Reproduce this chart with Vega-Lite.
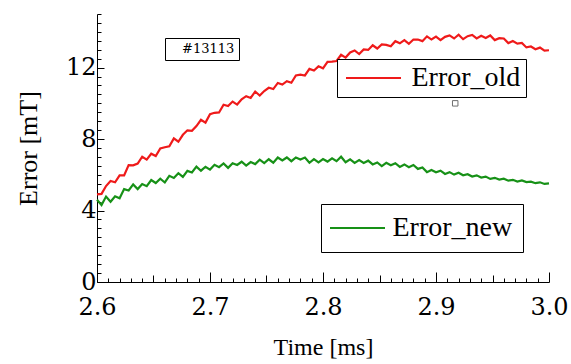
{
  "$schema": "https://vega.github.io/schema/vega-lite/v6.json",
  "width": 452,
  "height": 268,
  "autosize": {"type": "none"},
  "padding": {"left": 97, "top": 14, "right": 22, "bottom": 82},
  "background": "white",
  "data": {"values": [
    {"t":2.600,"old":4.90,"new":4.60},{"t":2.604,"old":4.93,"new":4.31},{"t":2.608,"old":5.37,"new":4.78},{"t":2.612,"old":5.65,"new":4.49},
    {"t":2.616,"old":5.58,"new":4.80},{"t":2.620,"old":5.97,"new":4.69},{"t":2.624,"old":5.97,"new":5.20},{"t":2.628,"old":6.54,"new":5.12},
    {"t":2.632,"old":6.53,"new":5.46},{"t":2.636,"old":6.63,"new":5.20},{"t":2.640,"old":7.01,"new":5.48},{"t":2.644,"old":6.85,"new":5.36},
    {"t":2.648,"old":7.18,"new":5.71},{"t":2.652,"old":7.05,"new":5.54},{"t":2.656,"old":7.47,"new":5.78},{"t":2.660,"old":7.54,"new":5.57},
    {"t":2.664,"old":7.60,"new":5.94},{"t":2.668,"old":8.04,"new":5.82},{"t":2.672,"old":7.85,"new":6.09},{"t":2.676,"old":8.24,"new":5.88},
    {"t":2.680,"old":8.49,"new":6.22},{"t":2.684,"old":8.46,"new":6.13},{"t":2.688,"old":8.73,"new":6.46},{"t":2.692,"old":9.08,"new":6.23},
    {"t":2.696,"old":8.92,"new":6.45},{"t":2.700,"old":9.39,"new":6.29},{"t":2.704,"old":9.47,"new":6.56},{"t":2.708,"old":9.49,"new":6.43},
    {"t":2.712,"old":9.92,"new":6.64},{"t":2.716,"old":9.85,"new":6.39},{"t":2.720,"old":10.10,"new":6.65},{"t":2.724,"old":9.93,"new":6.55},
    {"t":2.728,"old":10.23,"new":6.73},{"t":2.732,"old":10.40,"new":6.51},{"t":2.736,"old":10.30,"new":6.71},{"t":2.740,"old":10.66,"new":6.60},
    {"t":2.744,"old":10.44,"new":6.85},{"t":2.748,"old":10.69,"new":6.65},{"t":2.752,"old":10.87,"new":6.87},{"t":2.756,"old":10.80,"new":6.68},
    {"t":2.760,"old":11.14,"new":6.97},{"t":2.764,"old":11.05,"new":6.80},{"t":2.768,"old":11.24,"new":6.97},{"t":2.772,"old":11.15,"new":6.76},
    {"t":2.776,"old":11.56,"new":6.97},{"t":2.780,"old":11.61,"new":6.86},{"t":2.784,"old":11.56,"new":6.97},{"t":2.788,"old":11.93,"new":6.67},
    {"t":2.792,"old":11.84,"new":6.88},{"t":2.796,"old":12.07,"new":6.70},{"t":2.800,"old":11.96,"new":6.88},{"t":2.804,"old":12.32,"new":6.74},
    {"t":2.808,"old":12.33,"new":6.92},{"t":2.812,"old":12.37,"new":6.76},{"t":2.816,"old":12.72,"new":7.01},{"t":2.820,"old":12.56,"new":6.70},
    {"t":2.824,"old":12.85,"new":6.86},{"t":2.828,"old":12.96,"new":6.67},{"t":2.832,"old":12.76,"new":6.82},{"t":2.836,"old":13.02,"new":6.66},
    {"t":2.840,"old":12.99,"new":6.79},{"t":2.844,"old":13.25,"new":6.58},{"t":2.848,"old":13.07,"new":6.69},{"t":2.852,"old":13.30,"new":6.49},
    {"t":2.856,"old":13.27,"new":6.67},{"t":2.860,"old":13.19,"new":6.53},{"t":2.864,"old":13.48,"new":6.65},{"t":2.868,"old":13.36,"new":6.44},
    {"t":2.872,"old":13.54,"new":6.58},{"t":2.876,"old":13.33,"new":6.42},{"t":2.880,"old":13.57,"new":6.55},{"t":2.884,"old":13.57,"new":6.33},
    {"t":2.888,"old":13.48,"new":6.41},{"t":2.892,"old":13.75,"new":6.15},{"t":2.896,"old":13.57,"new":6.27},{"t":2.900,"old":13.73,"new":6.14},
    {"t":2.904,"old":13.54,"new":6.23},{"t":2.908,"old":13.72,"new":6.05},{"t":2.912,"old":13.80,"new":6.15},{"t":2.916,"old":13.63,"new":6.01},
    {"t":2.920,"old":13.84,"new":6.11},{"t":2.924,"old":13.59,"new":5.97},{"t":2.928,"old":13.76,"new":6.03},{"t":2.932,"old":13.83,"new":5.90},
    {"t":2.936,"old":13.63,"new":5.97},{"t":2.940,"old":13.78,"new":5.85},{"t":2.944,"old":13.66,"new":5.90},{"t":2.948,"old":13.80,"new":5.77},
    {"t":2.952,"old":13.54,"new":5.83},{"t":2.956,"old":13.65,"new":5.73},{"t":2.960,"old":13.63,"new":5.78},{"t":2.964,"old":13.37,"new":5.67},
    {"t":2.968,"old":13.49,"new":5.72},{"t":2.972,"old":13.34,"new":5.62},{"t":2.976,"old":13.38,"new":5.68},{"t":2.980,"old":13.13,"new":5.59},
    {"t":2.984,"old":13.18,"new":5.62},{"t":2.988,"old":13.03,"new":5.53},{"t":2.992,"old":13.12,"new":5.58},{"t":2.996,"old":12.95,"new":5.49},
    {"t":3.000,"old":12.97,"new":5.52}
  ]},
  "transform": [{"fold": ["old", "new"], "as": ["key", "value"]}],
  "encoding": {
    "x": {"field": "t", "type": "quantitative",
      "scale": {"domain": [2.6, 3.0], "nice": false, "zero": false},
      "axis": {
        "values": [2.6,2.61,2.62,2.63,2.64,2.65,2.66,2.67,2.68,2.69,2.7,2.71,2.72,2.73,2.74,2.75,2.76,2.77,2.78,2.79,2.8,2.81,2.82,2.83,2.84,2.85,2.86,2.87,2.88,2.89,2.9,2.91,2.92,2.93,2.94,2.95,2.96,2.97,2.98,2.99,3.0],
        "labelExpr": "abs(datum.value*10 - round(datum.value*10)) < 0.001 ? format(datum.value, '.1f') : ''",
        "ticks": true, "tickColor": "black", "tickWidth": 1, "tickOpacity": 1,
        "tickSize": {"condition": [
          {"test": "abs(datum.value*10 - round(datum.value*10)) < 0.001", "value": -10},
          {"test": "abs(datum.value*20 - round(datum.value*20)) < 0.001", "value": -7}
        ], "value": -4},
        "domainColor": "black",
        "labelFlush": false, "labelOverlap": false, "labelBound": false,
        "labelFont": "DejaVu Serif", "labelFontSize": 24, "labelPadding": 23, "labelColor": "black",
        "title": "Time [ms]", "titleFont": "Liberation Serif", "titleFontSize": 24, "titlePadding": 10, "titleFontWeight": "normal", "titleColor": "black"
      }
    },
    "y": {"field": "value", "type": "quantitative",
      "scale": {"domain": [0, 15], "nice": false},
      "axis": {
        "values": [0,0.5,1,1.5,2,2.5,3,3.5,4,4.5,5,5.5,6,6.5,7,7.5,8,8.5,9,9.5,10,10.5,11,11.5,12,12.5,13,13.5,14,14.5,15],
        "labelExpr": "datum.value % 4 == 0 ? format(datum.value, 'd') : ''",
        "ticks": true, "tickColor": "black", "tickWidth": 1, "tickOpacity": 1,
        "tickSize": {"condition": {"test": "datum.value % 4 == 0", "value": -7}, "value": -4},
        "domainColor": "black",
        "labelOverlap": false, "labelBound": false, "labelFlush": false,
        "labelFont": "DejaVu Serif", "labelFontSize": 24, "labelPadding": 8, "labelColor": "black",
        "title": "Error [mT]", "titleFont": "Liberation Serif", "titleFontSize": 26, "titlePadding": 24, "titleFontWeight": "normal", "titleColor": "black"
      }
    }
  },
  "layer": [
    {
      "transform": [{"filter": "datum.key == 'new'"}],
      "mark": {"type": "line", "strokeWidth": 2.2},
      "encoding": {
        "color": {"datum": "Error_new", "type": "nominal",
          "scale": {"domain": ["Error_new"], "range": ["#179117"]},
          "legend": {"orient": "none", "legendX": 224, "legendY": 190, "title": null,
            "padding": 10, "labelOffset": 21, "symbolType": "M-2.5,0H2.5", "symbolSize": 484, "symbolOffset": 12.5, "symbolStrokeWidth": 2,
            "labelFont": "Liberation Serif", "labelFontSize": 28, "labelColor": "black", "strokeColor": "black", "fillColor": "white"}
        }
      }
    },
    {
      "transform": [{"filter": "datum.key == 'old'"}],
      "mark": {"type": "line", "strokeWidth": 2.2},
      "encoding": {
        "color": {"datum": "Error_old", "type": "nominal",
          "scale": {"domain": ["Error_old"], "range": ["#ef1a1a"]},
          "legend": {"orient": "none", "legendX": 240, "legendY": 45, "title": null,
            "padding": 5, "labelOffset": 24, "symbolType": "M-2.5,0H2.5", "symbolSize": 484, "symbolOffset": 17.5, "symbolStrokeWidth": 2,
            "labelFont": "Liberation Serif", "labelFontSize": 28, "labelColor": "black", "strokeColor": "black", "fillColor": "white"}
        }
      }
    },
    {
      "transform": [{"filter": "datum.key == 'new'"}],
      "mark": {"type": "point", "opacity": 0},
      "encoding": {
        "shape": {"datum": "#13113", "type": "nominal",
          "legend": {"orient": "none", "legendX": 68, "legendY": 24, "title": null,
            "padding": 4, "labelOffset": 0, "symbolSize": 0, "symbolOpacity": 0, "symbolStrokeWidth": 0,
            "labelFont": "DejaVu Serif", "labelFontSize": 13, "labelColor": "black", "strokeColor": "black", "fillColor": "white"}
        }
      }
    },
    {
      "data": {"values": [{"t": 2.917, "value": 10.0}]},
      "mark": {"type": "square", "filled": false, "size": 30, "color": "#333333", "strokeWidth": 1}
    }
  ],
  "resolve": {"scale": {"color": "independent", "shape": "independent"}},
  "config": {
    "font": "Liberation Serif",
    "view": {"stroke": null},
    "axis": {"grid": false}
  }
}
